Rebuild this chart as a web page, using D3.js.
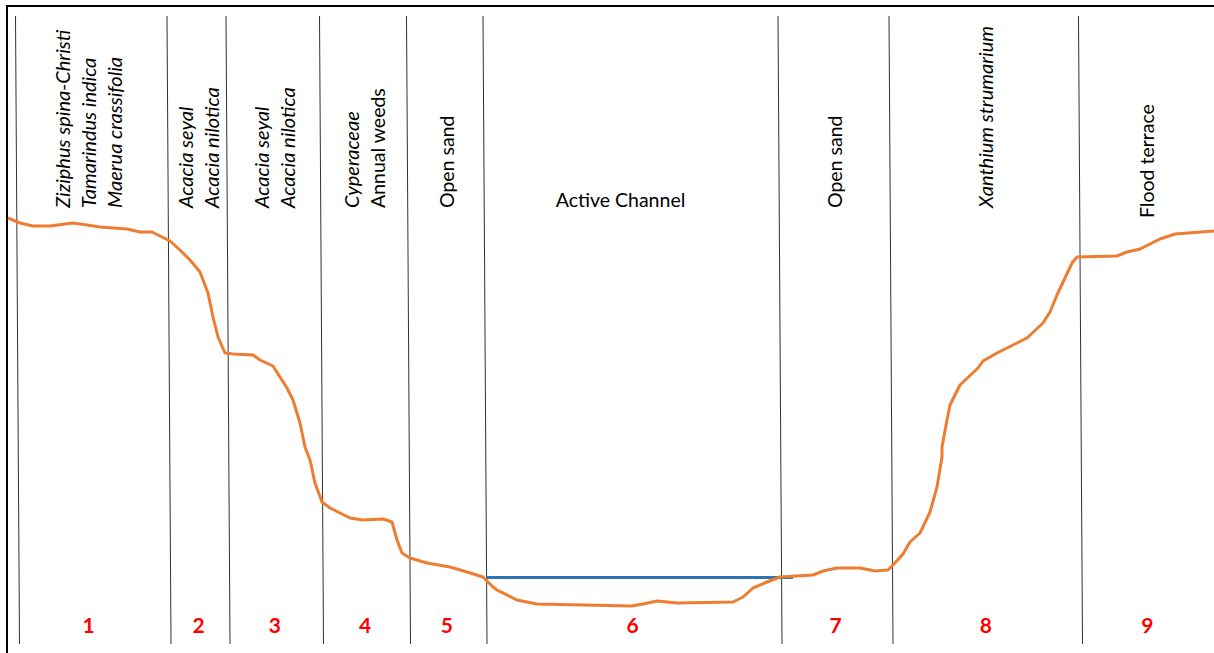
<!DOCTYPE html>
<html>
<head>
<meta charset="utf-8">
<script src="https://cdn.jsdelivr.net/npm/d3@7"></script>
<style>
  body { margin: 0; background: #fff; }
  svg { display: block; }
</style>
</head>
<body>
<div id="chart"></div>
<script>
// cross-section profile, distance vs relative elevation
var distance = [0, 1.2, 2.5, 4.2, 6.5, 7.9, 9.2, 11.9, 13.2, 14.4, 16.2, 17.2, 18.2, 19.2, 20.0, 20.5, 21.0, 21.7, 22.5, 24.5,
    25.2, 26.5, 27.2, 27.9, 28.5, 29.2, 29.7, 30.2, 30.7, 31.4, 32.2, 33.2, 34.2, 35.5, 37.5, 38.4, 38.9, 39.4, 40.2, 41.9,
    44.2, 45.9, 47.5, 48.5, 48.9, 50.9, 52.9, 57.5, 62.4, 63.5, 64.9, 66.9, 72.5, 73.5, 74.5, 75.9, 77.2, 80.5, 81.5, 82.9,
    85.2, 86.7, 88.0, 88.5, 89.5, 90.2, 91.2, 92.2, 92.9, 93.4, 93.4, 93.9, 94.2, 95.2, 97.0, 97.5, 98.9, 100.9, 101.9, 103.5,
    104.2, 104.9, 105.7, 106.4, 106.9, 110.9, 111.9, 113.2, 115.2, 116.7, 120.6];
var elevation = [42.2, 41.7, 41.4, 41.4, 41.7, 41.5, 41.3, 41.1, 40.8, 40.8, 39.9, 39.0, 38.0, 36.8, 34.7, 32.3, 30.3, 28.7, 28.6, 28.5,
    28.0, 27.4, 26.3, 25.2, 24.0, 21.7, 19.3, 18.0, 15.7, 13.8, 13.2, 12.7, 12.2, 12.0, 12.1, 11.8, 10.0, 8.7, 8.2, 7.7,
    7.3, 6.8, 6.3, 5.3, 5.0, 4.0, 3.6, 3.5, 3.4, 3.6, 3.9, 3.7, 3.8, 4.3, 5.2, 5.8, 6.3, 6.5, 6.9, 7.2,
    7.2, 6.9, 7.0, 7.5, 8.6, 9.8, 10.7, 12.8, 15.3, 18.3, 19.3, 22.0, 23.5, 25.5, 27.2, 27.9, 28.7, 29.7, 30.2, 31.7,
    32.8, 34.5, 36.2, 37.7, 38.3, 38.4, 38.8, 39.1, 40.1, 40.6, 40.9];

var waterLevel = 6.25;
var waterExtent = [47.8, 78.5];

// zone dividers (distance)
var dividers = [0.95, 16.1, 22.0, 31.35, 40.05, 47.7, 77.2, 88.3, 107.25];
var zoneNumbers = ["1", "2", "3", "4", "5", "6", "7", "8", "9"];
var zoneLabels = [
    ["Ziziphus spina-Christi", "Tamarindus indica", "Maerua crassifolia"],
    ["Acacia seyal", "Acacia nilotica"],
    ["Acacia seyal", "Acacia nilotica"],
    ["Cyperaceae", "Annual weeds"],
    ["Open sand"],
    ["Active Channel"],
    ["Open sand"],
    ["Xanthium strumarium"],
    ["Flood terrace"]
];
var zoneItalic = [
    [true, true, true],
    [true, true],
    [true, true],
    [true, false],
    [false],
    [false],
    [false],
    [true],
    [false]
];

var width = 1214, height = 653;
var xMax = 120.6;

var x = d3.scaleLinear().domain([0, xMax]).range([8, 1214]);
var y = d3.scaleLinear().domain([0, 40]).range([640, 240]);

var svg = d3.select("#chart").append("svg")
    .attr("width", width)
    .attr("height", height)
    .style("font-family", "Lato, 'Open Sans', sans-serif");

// frame (only top and left edges fall inside the picture)
svg.append("path")
    .attr("d", "M7," + height + "V6H" + width)
    .attr("fill", "none")
    .attr("stroke", "#000")
    .attr("stroke-width", 2);

var lean = 2;
svg.append("g").selectAll("line")
    .data(dividers)
    .enter().append("line")
    .attr("x1", function(d) { return x(d) - lean; })
    .attr("x2", function(d) { return x(d) + lean; })
    .attr("y1", 16)
    .attr("y2", 644)
    .attr("stroke", "#333")
    .attr("stroke-width", 1);

var edges = [0].concat(dividers.slice(1)).concat([xMax]);
var mids = zoneNumbers.map(function(n, i) { return (edges[i] + edges[i + 1]) / 2; });

// zone labels
var lineGap = 26;
zoneLabels.forEach(function(lines, i) {
    var cx = x(mids[i]);
    if (i === 5) {
        svg.append("text")
            .attr("x", cx - 12)
            .attr("y", 207)
            .attr("text-anchor", "middle")
            .attr("font-size", 19.5)
            .attr("fill", "#000")
            .text(lines[0]);
        return;
    }
    var n = lines.length;
    var bottom = i === 8 ? 218 : 208;
    lines.forEach(function(t, j) {
        var it = zoneItalic[i][j];
        var lx = cx + (j - (n - 1) / 2) * lineGap;
        svg.append("text")
            .attr("transform", "translate(" + lx + "," + bottom + ") rotate(-90)")
            .attr("dy", "0.35em")
            .attr("text-anchor", "start")
            .attr("font-size", it ? 20 : 19.5)
            .attr("font-style", it ? "italic" : "normal")
            .attr("fill", "#000")
            .text(t);
    });
});

// water surface
svg.append("line")
    .attr("x1", x(waterExtent[0]))
    .attr("x2", x(waterExtent[1]))
    .attr("y1", y(waterLevel))
    .attr("y2", y(waterLevel))
    .attr("stroke", "#2E75B6")
    .attr("stroke-width", 3);

// ground profile
var profile = distance.map(function(d, i) { return [d, elevation[i]]; });
svg.append("path")
    .datum(profile)
    .attr("fill", "none")
    .attr("stroke", "#ED7D31")
    .attr("stroke-width", 3)
    .attr("stroke-linejoin", "round")
    .attr("d", d3.line()
        .x(function(d) { return x(d[0]); })
        .y(function(d) { return y(d[1]); }));

// zone numbers
svg.append("g").selectAll("text")
    .data(zoneNumbers)
    .enter().append("text")
    .attr("x", function(d, i) { return x(mids[i]); })
    .attr("y", 633)
    .attr("text-anchor", "middle")
    .attr("font-size", 21)
    .attr("font-weight", "bold")
    .attr("fill", "#FF0000")
    .text(function(d) { return d; });
</script>
</body>
</html>
